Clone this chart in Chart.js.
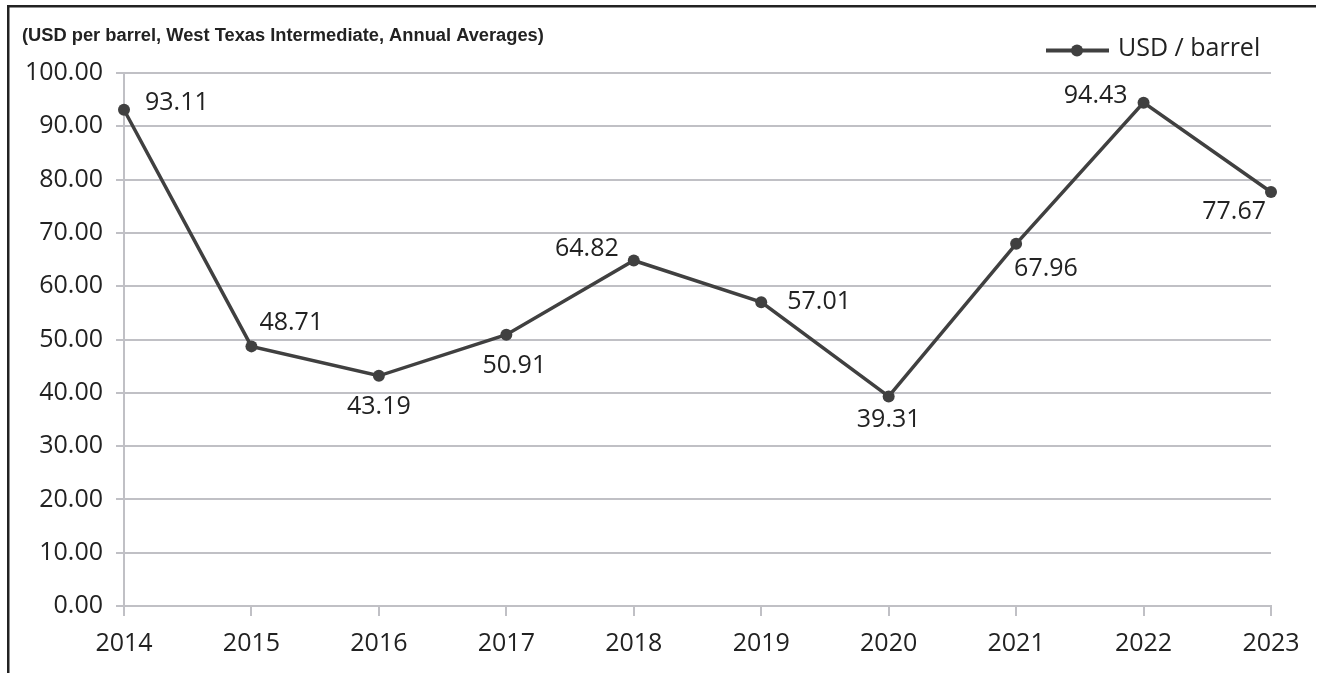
<!DOCTYPE html>
<html>
<head>
<meta charset="utf-8">
<script src="https://cdn.jsdelivr.net/npm/chart.js@4.4.1/dist/chart.umd.min.js"></script>
<style>
  html, body { margin: 0; padding: 0; background: #fff; overflow: hidden; }
  #wrap { position: relative; width: 1317px; height: 673px; }
</style>
</head>
<body>
<div id="wrap"><canvas id="oil-chart" width="1317" height="673"></canvas></div>
<script>
// --- DATA ---
const years = ['2014', '2015', '2016', '2017', '2018', '2019', '2020', '2021', '2022', '2023'];
const prices = [93.11, 48.71, 43.19, 50.91, 64.82, 57.01, 39.31, 67.96, 94.43, 77.67];
const seriesName = 'USD / barrel';
const chartNote = '(USD per barrel, West Texas Intermediate, Annual Averages)';

// where each value label sits relative to its point (dx, dy, text align)
const labelSpots = [
    [21, -7, 'left'], [8, -24, 'left'], [0, 31, 'center'], [8, 31, 'center'], [-15, -12, 'right'],
    [26, 0, 'left'], [0, 23, 'center'], [-2, 25, 'left'], [-16, -7, 'right'], [-5, 20, 'right']
];

const LINE_COLOR = '#404040';
const GRID_COLOR = '#c0c0c5';
const TEXT_COLOR = '#222222';
const MAIN_FONT = '"Open Sans", sans-serif';
const FONT_SIZE = 25;

const canvas = document.getElementById('oil-chart');

/**
 * Frame, note, legend and value labels.
 */
const decorPlugin = {
    id: 'decor',
    beforeDraw(chart) {
        const ctx = chart.ctx;
        ctx.save();
        ctx.fillStyle = '#fff';
        ctx.fillRect(0, 0, chart.width, chart.height);
        ctx.fillStyle = '#222';
        // frame: left and top edges only
        ctx.fillRect(7, 5, 2.5, chart.height - 5);
        ctx.fillRect(7, 5, chart.width - 8, 2.5);

        ctx.fillStyle = TEXT_COLOR;
        ctx.font = 'bold 18.3px "Liberation Sans", Arial, sans-serif';
        ctx.textAlign = 'left';
        ctx.textBaseline = 'middle';
        ctx.fillText(chartNote, 22, 36);
        ctx.restore();
    },
    afterDatasetsDraw(chart) {
        const ctx = chart.ctx;
        const meta = chart.getDatasetMeta(0);
        ctx.save();
        ctx.fillStyle = TEXT_COLOR;
        ctx.font = FONT_SIZE + 'px ' + MAIN_FONT;
        ctx.textBaseline = 'middle';
        meta.data.forEach((pt, i) => {
            const spot = labelSpots[i];
            ctx.textAlign = spot[2];
            ctx.fillText(prices[i].toFixed(2), pt.x + spot[0], pt.y + spot[1]);
        });

        // legend: line with marker
        ctx.strokeStyle = LINE_COLOR;
        ctx.lineWidth = 4;
        ctx.beginPath();
        ctx.moveTo(1046, 50.5);
        ctx.lineTo(1109, 50.5);
        ctx.stroke();
        ctx.fillStyle = LINE_COLOR;
        ctx.beginPath();
        ctx.arc(1077, 50.5, 6, 0, Math.PI * 2);
        ctx.fill();
        ctx.fillStyle = TEXT_COLOR;
        ctx.textAlign = 'left';
        ctx.fillText(seriesName, 1118, 49);
        ctx.restore();
    }
};

new Chart(canvas, {
    type: 'line',
    data: {
        labels: years,
        datasets: [{
            label: seriesName,
            data: prices,
            borderColor: LINE_COLOR,
            backgroundColor: LINE_COLOR,
            borderWidth: 3.5,
            pointRadius: 6,
            pointBorderWidth: 0,
            pointBackgroundColor: LINE_COLOR,
            tension: 0,
            clip: false
        }]
    },
    options: {
        responsive: false,
        animation: false,
        layout: { padding: { top: 73, right: 46, left: 0, bottom: 0 } },
        plugins: {
            legend: { display: false },
            title: { display: false },
            tooltip: { enabled: false }
        },
        scales: {
            x: {
                grid: { drawOnChartArea: false, drawTicks: true, tickLength: 10, color: GRID_COLOR, lineWidth: 2 },
                border: { color: GRID_COLOR, width: 2 },
                ticks: { color: TEXT_COLOR, font: { family: MAIN_FONT, size: FONT_SIZE }, padding: 13, maxRotation: 0 },
                afterFit: (scale) => { scale.height = 67; }
            },
            y: {
                min: 0,
                max: 100,
                grid: { color: GRID_COLOR, lineWidth: 2, tickLength: 8 },
                border: { color: GRID_COLOR, width: 2 },
                ticks: {
                    stepSize: 10,
                    color: TEXT_COLOR,
                    font: { family: MAIN_FONT, size: FONT_SIZE },
                    padding: 13,
                    callback: (v) => Number(v).toFixed(2)
                },
                afterFit: (scale) => { scale.width = 124; }
            }
        }
    },
    plugins: [decorPlugin]
});
</script>
</body>
</html>
